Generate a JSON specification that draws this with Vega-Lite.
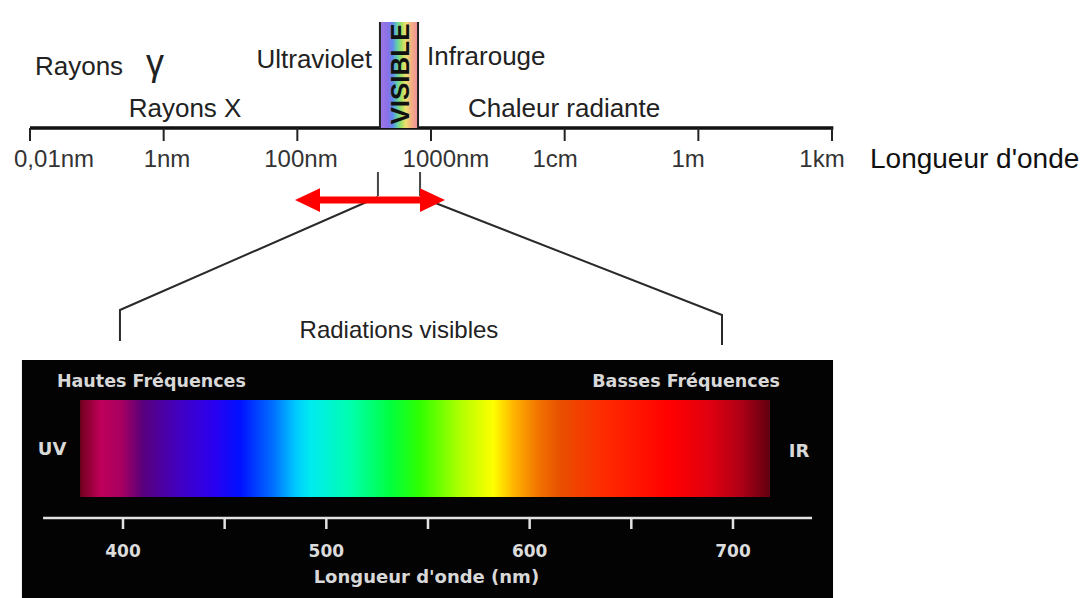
{
  "$schema": "https://vega.github.io/schema/vega-lite/v6.json",
  "width": 1088,
  "height": 598,
  "autosize": {"type": "fit", "contains": "padding"},
  "padding": 0,
  "background": "white",
  "config": {"view": {"stroke": null}},
  "resolve": {"scale": {"x": "independent"}},
  "datasets": {
    "axisSpan": [{"from": 0, "to": 6.01}],
    "topTicks": [
      {"step": 0, "labelStep": 0.18, "label": "0,01nm"},
      {"step": 1, "labelStep": 1.025, "label": "1nm"},
      {"step": 2, "labelStep": 2.027, "label": "100nm"},
      {"step": 3, "labelStep": 3.112, "label": "1000nm"},
      {"step": 4, "labelStep": 3.928, "label": "1cm"},
      {"step": 5, "labelStep": 4.923, "label": "1m"},
      {"step": 6, "labelStep": 5.925, "label": "1km"}
    ],
    "leftLabels": [
      {"label": "Rayons", "step": 0.037, "v": 75},
      {"label": "Infrarouge", "step": 2.97, "v": 65},
      {"label": "Chaleur radiante", "step": 3.277, "v": 117}
    ],
    "rightLabels": [{"label": "Ultraviolet", "step": 2.559, "v": 68}],
    "centerLabels": [{"label": "Rayons X", "step": 1.16, "v": 117}],
    "gamma": [{"label": "γ", "step": 0.935, "v": 75}],
    "axisTitle": [{"label": "Longueur d'onde", "step": 6.284, "v": 168}],
    "visibleBand": [{"from": 2.618, "to": 2.903, "mid": 2.776, "label": "VISIBLE"}],
    "zoomMarks": [{"step": 2.603}, {"step": 2.918}],
    "connectors": [
      {"side": "L", "order": 1, "step": 2.603, "v": 197},
      {"side": "L", "order": 2, "step": 0.673, "v": 310},
      {"side": "L", "order": 3, "step": 0.673, "v": 341},
      {"side": "R", "order": 1, "step": 2.918, "v": 197},
      {"side": "R", "order": 2, "step": 5.177, "v": 315},
      {"side": "R", "order": 3, "step": 5.177, "v": 345}
    ],
    "arrow": [{"from": 2.076, "to": 3.011}],
    "caption": [{"label": "Radiations visibles", "step": 2.76}],
    "panel": [{"from": 350.3, "to": 749.2}],
    "spectrum": [{"from": 378.9, "to": 718.2}],
    "nmAxis": [{"from": 360.7, "to": 738.9}],
    "nmTicks": [
      {"nm": 400, "label": "400"},
      {"nm": 450, "label": ""},
      {"nm": 500, "label": "500"},
      {"nm": 550, "label": ""},
      {"nm": 600, "label": "600"},
      {"nm": 650, "label": ""},
      {"nm": 700, "label": "700"}
    ]
  },
  "layer": [
    {
      "data": {"name": "panel"},
      "mark": {"type": "rect", "fill": "#030303"},
      "encoding": {
        "x": {"field": "from", "type": "quantitative", "scale": {"domain": [339.51, 874.6], "nice": false, "zero": false}, "axis": null},
        "x2": {"field": "to"},
        "y": {"datum": 360, "type": "quantitative", "scale": {"domain": [0, 598], "reverse": true, "nice": false, "zero": false}, "axis": null},
        "y2": {"datum": 598}
      }
    },
    {
      "data": {"name": "spectrum"},
      "mark": {"type": "rect", "fill": {"gradient": "linear", "x1": 0, "y1": 0, "x2": 1, "y2": 0, "stops": [
        {"offset": 0, "color": "#70001c"},
        {"offset": 0.03, "color": "#c0005a"},
        {"offset": 0.06, "color": "#a80060"},
        {"offset": 0.091, "color": "#58007c"},
        {"offset": 0.149, "color": "#4000c8"},
        {"offset": 0.196, "color": "#2800f0"},
        {"offset": 0.232, "color": "#0010ff"},
        {"offset": 0.28, "color": "#0070ff"},
        {"offset": 0.312, "color": "#00c8ff"},
        {"offset": 0.333, "color": "#00eaf0"},
        {"offset": 0.391, "color": "#00ffb0"},
        {"offset": 0.449, "color": "#00ff40"},
        {"offset": 0.493, "color": "#30ff00"},
        {"offset": 0.551, "color": "#b0ff00"},
        {"offset": 0.599, "color": "#ffff00"},
        {"offset": 0.63, "color": "#ffb000"},
        {"offset": 0.667, "color": "#f07000"},
        {"offset": 0.696, "color": "#e85000"},
        {"offset": 0.761, "color": "#ff2a00"},
        {"offset": 0.855, "color": "#ff0000"},
        {"offset": 0.913, "color": "#e00010"},
        {"offset": 0.957, "color": "#b00015"},
        {"offset": 1, "color": "#600010"}
      ]}},
      "encoding": {
        "x": {"field": "from", "type": "quantitative", "scale": {"domain": [339.51, 874.6], "nice": false, "zero": false}, "axis": null},
        "x2": {"field": "to"},
        "y": {"datum": 400, "type": "quantitative", "scale": {"domain": [0, 598], "reverse": true, "nice": false, "zero": false}, "axis": null},
        "y2": {"datum": 497}
      }
    },
    {
      "data": {"name": "nmAxis"},
      "mark": {"type": "rule", "stroke": "#e2e2e2", "strokeWidth": 2.5},
      "encoding": {
        "x": {"field": "from", "type": "quantitative", "scale": {"domain": [339.51, 874.6], "nice": false, "zero": false}, "axis": null},
        "x2": {"field": "to"},
        "y": {"datum": 518, "type": "quantitative", "scale": {"domain": [0, 598], "reverse": true, "nice": false, "zero": false}, "axis": null}
      }
    },
    {
      "data": {"name": "nmTicks"},
      "mark": {"type": "rule", "stroke": "#e2e2e2", "strokeWidth": 2.5},
      "encoding": {
        "x": {"field": "nm", "type": "quantitative", "scale": {"domain": [339.51, 874.6], "nice": false, "zero": false}, "axis": null},
        "y": {"datum": 518, "type": "quantitative", "scale": {"domain": [0, 598], "reverse": true, "nice": false, "zero": false}, "axis": null},
        "y2": {"datum": 529}
      }
    },
    {
      "data": {"name": "nmTicks"},
      "mark": {"type": "text", "font": "DejaVu Sans", "fontWeight": "bold", "fontSize": 17, "fill": "#dcdcdc", "align": "center", "baseline": "alphabetic"},
      "encoding": {
        "x": {"field": "nm", "type": "quantitative", "scale": {"domain": [339.51, 874.6], "nice": false, "zero": false}, "axis": null},
        "y": {"datum": 557, "type": "quantitative", "scale": {"domain": [0, 598], "reverse": true, "nice": false, "zero": false}, "axis": null},
        "text": {"field": "label"}
      }
    },
    {
      "data": {"values": [{"label": "Hautes Fréquences", "nm": 367.5}]},
      "mark": {"type": "text", "font": "DejaVu Sans", "fontWeight": "bold", "fontSize": 17.5, "fill": "#d8d8d8", "align": "left", "baseline": "alphabetic"},
      "encoding": {
        "x": {"field": "nm", "type": "quantitative", "scale": {"domain": [339.51, 874.6], "nice": false, "zero": false}, "axis": null},
        "y": {"datum": 387, "type": "quantitative", "scale": {"domain": [0, 598], "reverse": true, "nice": false, "zero": false}, "axis": null},
        "text": {"field": "label"}
      }
    },
    {
      "data": {"values": [{"label": "Basses Fréquences", "nm": 723.1}]},
      "mark": {"type": "text", "font": "DejaVu Sans", "fontWeight": "bold", "fontSize": 17.5, "fill": "#d8d8d8", "align": "right", "baseline": "alphabetic"},
      "encoding": {
        "x": {"field": "nm", "type": "quantitative", "scale": {"domain": [339.51, 874.6], "nice": false, "zero": false}, "axis": null},
        "y": {"datum": 387, "type": "quantitative", "scale": {"domain": [0, 598], "reverse": true, "nice": false, "zero": false}, "axis": null},
        "text": {"field": "label"}
      }
    },
    {
      "data": {"values": [{"label": "UV", "nm": 365.1, "v": 455}, {"label": "IR", "nm": 732.5, "v": 457}, {"label": "Longueur d'onde (nm)", "nm": 549.2, "v": 583}]},
      "mark": {"type": "text", "font": "DejaVu Sans", "fontWeight": "bold", "fontSize": 18, "fill": "#d8d8d8", "align": "center", "baseline": "alphabetic"},
      "encoding": {
        "x": {"field": "nm", "type": "quantitative", "scale": {"domain": [339.51, 874.6], "nice": false, "zero": false}, "axis": null},
        "y": {"field": "v", "type": "quantitative", "scale": {"domain": [0, 598], "reverse": true, "nice": false, "zero": false}, "axis": null},
        "text": {"field": "label"}
      }
    },
    {
      "data": {"name": "axisSpan"},
      "mark": {"type": "rule", "stroke": "#111111", "strokeWidth": 3.5},
      "encoding": {
        "x": {"field": "from", "type": "quantitative", "scale": {"domain": [-0.2244, 7.915], "nice": false, "zero": false}, "axis": null},
        "x2": {"field": "to"},
        "y": {"datum": 128, "type": "quantitative", "scale": {"domain": [0, 598], "reverse": true, "nice": false, "zero": false}, "axis": null}
      }
    },
    {
      "data": {"name": "topTicks"},
      "mark": {"type": "rule", "stroke": "#222222", "strokeWidth": 2},
      "encoding": {
        "x": {"field": "step", "type": "quantitative", "scale": {"domain": [-0.2244, 7.915], "nice": false, "zero": false}, "axis": null},
        "y": {"datum": 128, "type": "quantitative", "scale": {"domain": [0, 598], "reverse": true, "nice": false, "zero": false}, "axis": null},
        "y2": {"datum": 141}
      }
    },
    {
      "data": {"name": "topTicks"},
      "mark": {"type": "text", "font": "Liberation Sans", "fontSize": 24, "fill": "#333333", "align": "center", "baseline": "alphabetic"},
      "encoding": {
        "x": {"field": "labelStep", "type": "quantitative", "scale": {"domain": [-0.2244, 7.915], "nice": false, "zero": false}, "axis": null},
        "y": {"datum": 167, "type": "quantitative", "scale": {"domain": [0, 598], "reverse": true, "nice": false, "zero": false}, "axis": null},
        "text": {"field": "label"}
      }
    },
    {
      "data": {"name": "leftLabels"},
      "mark": {"type": "text", "font": "Liberation Sans", "fontSize": 26, "fill": "#222222", "align": "left", "baseline": "alphabetic"},
      "encoding": {
        "x": {"field": "step", "type": "quantitative", "scale": {"domain": [-0.2244, 7.915], "nice": false, "zero": false}, "axis": null},
        "y": {"field": "v", "type": "quantitative", "scale": {"domain": [0, 598], "reverse": true, "nice": false, "zero": false}, "axis": null},
        "text": {"field": "label"}
      }
    },
    {
      "data": {"name": "rightLabels"},
      "mark": {"type": "text", "font": "Liberation Sans", "fontSize": 26, "fill": "#222222", "align": "right", "baseline": "alphabetic"},
      "encoding": {
        "x": {"field": "step", "type": "quantitative", "scale": {"domain": [-0.2244, 7.915], "nice": false, "zero": false}, "axis": null},
        "y": {"field": "v", "type": "quantitative", "scale": {"domain": [0, 598], "reverse": true, "nice": false, "zero": false}, "axis": null},
        "text": {"field": "label"}
      }
    },
    {
      "data": {"name": "centerLabels"},
      "mark": {"type": "text", "font": "Liberation Sans", "fontSize": 26, "fill": "#222222", "align": "center", "baseline": "alphabetic"},
      "encoding": {
        "x": {"field": "step", "type": "quantitative", "scale": {"domain": [-0.2244, 7.915], "nice": false, "zero": false}, "axis": null},
        "y": {"field": "v", "type": "quantitative", "scale": {"domain": [0, 598], "reverse": true, "nice": false, "zero": false}, "axis": null},
        "text": {"field": "label"}
      }
    },
    {
      "data": {"name": "gamma"},
      "mark": {"type": "text", "font": "Liberation Sans", "fontSize": 36, "fill": "#222222", "align": "center", "baseline": "alphabetic"},
      "encoding": {
        "x": {"field": "step", "type": "quantitative", "scale": {"domain": [-0.2244, 7.915], "nice": false, "zero": false}, "axis": null},
        "y": {"field": "v", "type": "quantitative", "scale": {"domain": [0, 598], "reverse": true, "nice": false, "zero": false}, "axis": null},
        "text": {"field": "label"}
      }
    },
    {
      "data": {"name": "axisTitle"},
      "mark": {"type": "text", "font": "Liberation Sans", "fontSize": 28, "fill": "#111111", "align": "left", "baseline": "alphabetic"},
      "encoding": {
        "x": {"field": "step", "type": "quantitative", "scale": {"domain": [-0.2244, 7.915], "nice": false, "zero": false}, "axis": null},
        "y": {"field": "v", "type": "quantitative", "scale": {"domain": [0, 598], "reverse": true, "nice": false, "zero": false}, "axis": null},
        "text": {"field": "label"}
      }
    },
    {
      "data": {"name": "visibleBand"},
      "mark": {"type": "rect", "fill": {"gradient": "linear", "x1": 0, "y1": 0, "x2": 1, "y2": 0, "stops": [
        {"offset": 0, "color": "#a078e0"},
        {"offset": 0.2, "color": "#8a70e8"},
        {"offset": 0.33, "color": "#6088f0"},
        {"offset": 0.45, "color": "#60d0a8"},
        {"offset": 0.57, "color": "#a8e060"},
        {"offset": 0.68, "color": "#f0e070"},
        {"offset": 0.82, "color": "#f4b080"},
        {"offset": 1, "color": "#f08ca0"}
      ]}},
      "encoding": {
        "x": {"field": "from", "type": "quantitative", "scale": {"domain": [-0.2244, 7.915], "nice": false, "zero": false}, "axis": null},
        "x2": {"field": "to"},
        "y": {"datum": 22, "type": "quantitative", "scale": {"domain": [0, 598], "reverse": true, "nice": false, "zero": false}, "axis": null},
        "y2": {"datum": 128}
      }
    },
    {
      "data": {"name": "visibleBand"},
      "mark": {"type": "rule", "stroke": "#222222", "strokeWidth": 2},
      "encoding": {
        "x": {"field": "from", "type": "quantitative", "scale": {"domain": [-0.2244, 7.915], "nice": false, "zero": false}, "axis": null},
        "y": {"datum": 22, "type": "quantitative", "scale": {"domain": [0, 598], "reverse": true, "nice": false, "zero": false}, "axis": null},
        "y2": {"datum": 128}
      }
    },
    {
      "data": {"name": "visibleBand"},
      "mark": {"type": "rule", "stroke": "#222222", "strokeWidth": 2},
      "encoding": {
        "x": {"field": "to", "type": "quantitative", "scale": {"domain": [-0.2244, 7.915], "nice": false, "zero": false}, "axis": null},
        "y": {"datum": 22, "type": "quantitative", "scale": {"domain": [0, 598], "reverse": true, "nice": false, "zero": false}, "axis": null},
        "y2": {"datum": 128}
      }
    },
    {
      "data": {"name": "visibleBand"},
      "mark": {"type": "text", "font": "Liberation Sans", "fontWeight": "bold", "fontSize": 26, "fill": "#111111", "align": "center", "baseline": "middle", "angle": 270},
      "encoding": {
        "x": {"field": "mid", "type": "quantitative", "scale": {"domain": [-0.2244, 7.915], "nice": false, "zero": false}, "axis": null},
        "y": {"datum": 74, "type": "quantitative", "scale": {"domain": [0, 598], "reverse": true, "nice": false, "zero": false}, "axis": null},
        "text": {"field": "label"}
      }
    },
    {
      "data": {"name": "zoomMarks"},
      "mark": {"type": "rule", "stroke": "#444444", "strokeWidth": 2},
      "encoding": {
        "x": {"field": "step", "type": "quantitative", "scale": {"domain": [-0.2244, 7.915], "nice": false, "zero": false}, "axis": null},
        "y": {"datum": 172, "type": "quantitative", "scale": {"domain": [0, 598], "reverse": true, "nice": false, "zero": false}, "axis": null},
        "y2": {"datum": 196}
      }
    },
    {
      "data": {"name": "connectors"},
      "mark": {"type": "line", "stroke": "#2a2a2a", "strokeWidth": 2},
      "encoding": {
        "x": {"field": "step", "type": "quantitative", "scale": {"domain": [-0.2244, 7.915], "nice": false, "zero": false}, "axis": null},
        "y": {"field": "v", "type": "quantitative", "scale": {"domain": [0, 598], "reverse": true, "nice": false, "zero": false}, "axis": null},
        "detail": {"field": "side"},
        "order": {"field": "order"}
      }
    },
    {
      "data": {"name": "arrow"},
      "mark": {"type": "rule", "stroke": "#ff0000", "strokeWidth": 7},
      "encoding": {
        "x": {"field": "from", "type": "quantitative", "scale": {"domain": [-0.2244, 7.915], "nice": false, "zero": false}, "axis": null},
        "x2": {"field": "to"},
        "y": {"datum": 200, "type": "quantitative", "scale": {"domain": [0, 598], "reverse": true, "nice": false, "zero": false}, "axis": null}
      }
    },
    {
      "data": {"name": "arrow"},
      "mark": {"type": "point", "filled": true, "fill": "#ff0000", "stroke": null, "opacity": 1, "size": 625, "shape": "M-1,0L1,-0.95L1,0.95Z"},
      "encoding": {
        "x": {"field": "from", "type": "quantitative", "scale": {"domain": [-0.2244, 7.915], "nice": false, "zero": false}, "axis": null},
        "y": {"datum": 200, "type": "quantitative", "scale": {"domain": [0, 598], "reverse": true, "nice": false, "zero": false}, "axis": null}
      }
    },
    {
      "data": {"name": "arrow"},
      "mark": {"type": "point", "filled": true, "fill": "#ff0000", "stroke": null, "opacity": 1, "size": 625, "shape": "M1,0L-1,-0.95L-1,0.95Z"},
      "encoding": {
        "x": {"field": "to", "type": "quantitative", "scale": {"domain": [-0.2244, 7.915], "nice": false, "zero": false}, "axis": null},
        "y": {"datum": 200, "type": "quantitative", "scale": {"domain": [0, 598], "reverse": true, "nice": false, "zero": false}, "axis": null}
      }
    },
    {
      "data": {"name": "caption"},
      "mark": {"type": "text", "font": "Liberation Sans", "fontSize": 24, "fill": "#222222", "align": "center", "baseline": "alphabetic"},
      "encoding": {
        "x": {"field": "step", "type": "quantitative", "scale": {"domain": [-0.2244, 7.915], "nice": false, "zero": false}, "axis": null},
        "y": {"datum": 338, "type": "quantitative", "scale": {"domain": [0, 598], "reverse": true, "nice": false, "zero": false}, "axis": null},
        "text": {"field": "label"}
      }
    }
  ]
}
